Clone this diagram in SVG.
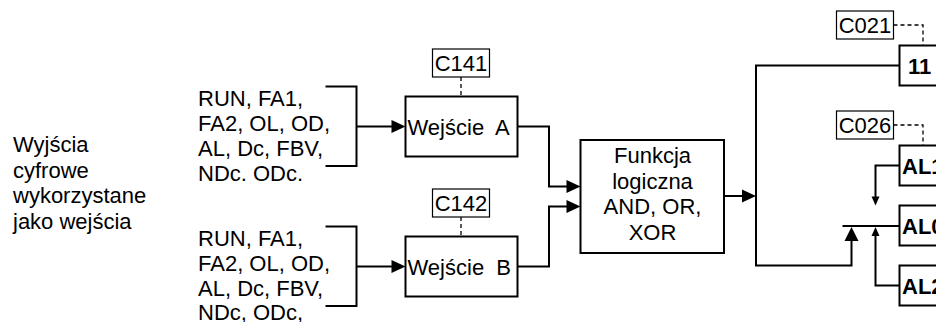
<svg xmlns="http://www.w3.org/2000/svg" width="936" height="322" viewBox="0 0 936 322">
<style>
text{font-family:"Liberation Sans",Arial,sans-serif;font-size:22px;fill:#000}
.b{font-weight:bold}
.m{text-anchor:middle}
.box{fill:#fff;stroke:#000;stroke-width:2}
.lbl{fill:#fff;stroke:#000;stroke-width:1.2}
.ln{fill:none;stroke:#000;stroke-width:2}
.ds{fill:none;stroke:#000;stroke-width:1.3;stroke-dasharray:4 3}
.ah{fill:#000}
</style>
<rect width="936" height="322" fill="#fff"/>
<g id="connectors">
<path class="ln" d="M325.5,86.5H356.5V166H325.5M356.5,126.5H392"/>
<path class="ah" d="M405.5,126.5L391.5,120L391.5,133Z"/>
<path class="ln" d="M325.5,226.5H356.5V306H325.5M356.5,266.5H392"/>
<path class="ah" d="M405.5,266.5L391.5,260L391.5,273Z"/>
<path class="ln" d="M517.5,126.5H549V186.5H567"/>
<path class="ah" d="M580.5,186.5L566.5,180L566.5,193Z"/>
<path class="ln" d="M517.5,266.5H549V206.5H567"/>
<path class="ah" d="M580.5,206.5L566.5,200L566.5,213Z"/>
<path class="ln" d="M724,196H743"/>
<path class="ah" d="M756,196L742,189.5L742,202.5Z"/>
<path class="ln" d="M899.5,65.5H756V265.5H851.5V240"/>
<path class="ah" d="M851.5,227L844.5,241L858.5,241Z"/>
<path class="ln" d="M842.5,226H899.5"/>
<path class="ln" d="M899.5,165.5H875.5V197"/>
<path class="ah" d="M875.5,205.5L871.5,196.5L879.5,196.5Z"/>
<path class="ln" d="M899.5,285.5H875.5V235"/>
<path class="ah" d="M875.5,227L871.5,236L879.5,236Z"/>
<path class="ds" d="M461,77V96.5M461,217V236.5M893.5,25H923V45.5M893.5,125H923V145.5"/>
</g>
<g id="label-left">
<text x="13" y="152">Wyjścia</text>
<text x="13" y="177.5">cyfrowe</text>
<text x="13" y="203">wykorzystane</text>
<text x="13" y="228.5">jako wejścia</text>
</g>
<g id="inputs-a">
<text x="198" y="106">RUN, FA1,</text>
<text x="198" y="131">FA2, OL, OD,</text>
<text x="198" y="156">AL, Dc, FBV,</text>
<text x="198" y="181">NDc. ODc.</text>
</g>
<g id="inputs-b">
<text x="198" y="246">RUN, FA1,</text>
<text x="198" y="271">FA2, OL, OD,</text>
<text x="198" y="296">AL, Dc, FBV,</text>
<text x="198" y="320">NDc, ODc,</text>
</g>
<g id="c141"><rect class="lbl" x="432.5" y="49" width="57" height="28"/><text class="m" x="461" y="71">C141</text></g>
<g id="c142"><rect class="lbl" x="432.5" y="189" width="57" height="28"/><text class="m" x="461" y="211">C142</text></g>
<g id="wejscie-a"><rect class="box" x="405.5" y="96.5" width="112" height="60"/><text x="407.5" y="134.5" xml:space="preserve">Wejście  A</text></g>
<g id="wejscie-b"><rect class="box" x="405.5" y="236.5" width="112" height="60"/><text x="407.5" y="274.5" xml:space="preserve">Wejście  B</text></g>
<g id="funkcja">
<rect class="box" x="580.5" y="140" width="143.5" height="113"/>
<text class="m" x="652.5" y="163">Funkcja</text>
<text class="m" x="652.5" y="188.5">logiczna</text>
<text class="m" x="652.5" y="214">AND, OR,</text>
<text class="m" x="652.5" y="239.5">XOR</text>
</g>
<g id="c021"><rect class="lbl" x="836.5" y="11" width="57" height="28"/><text class="m" x="865" y="33">C021</text></g>
<g id="c026"><rect class="lbl" x="836.5" y="111" width="57" height="28"/><text class="m" x="865" y="133">C026</text></g>
<g id="out-11"><rect class="box" x="899.5" y="45.5" width="60" height="40"/><text class="b" x="908" y="73.5">11</text></g>
<g id="al1"><rect class="box" x="899.5" y="145.5" width="60" height="40"/><text class="b" x="902" y="173.5">AL1</text></g>
<g id="al0"><rect class="box" x="899.5" y="205.5" width="60" height="40"/><text class="b" x="902" y="233.5">AL0</text></g>
<g id="al2"><rect class="box" x="899.5" y="265.5" width="60" height="40"/><text class="b" x="902" y="293.5">AL2</text></g>
</svg>
